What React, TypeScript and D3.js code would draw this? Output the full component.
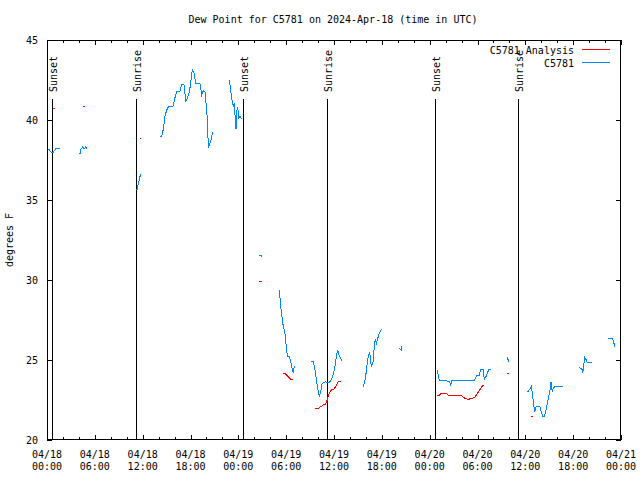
import React from "react";
import * as d3 from "d3";

// ---- Data (hours after 2024-04-18 00:00 UTC; null = gap) ----
const stationHours: (number | null)[] = [
  0.16, 0.5, 0.79, 1.09, 1.63, null,
  4.14, 4.23, 4.48, 4.68, 4.85, 4.98, null,
  9.13, 9.19, null,
  11.16, 11.32, 11.45, 11.57, 11.66, 11.79, null,
  14.17, 14.39, 14.59, 14.8, 15.02, 15.22, 15.84, 15.97, 16.27, 16.68, 16.9, 17.19, 17.4, 17.6, 17.81, 18.03, 18.15, 18.28, 18.44, 18.65, 19.19, 19.41, 19.61, 19.82, 20.03, 20.16, 20.23, 20.36, 20.53, 20.74, 20.86, null,
  22.83, 22.96, 23.08, 23.24, 23.37, 23.49, 23.58, 23.71, 23.8, 23.92, 24.08, 24.21, 24.42, null,
  26.63, 27.01, null,
  29.14, 29.32, 29.48, 29.64, 29.82, 29.94, 30.07, 30.19, 30.39, 30.57, 30.73, 30.9, 30.95, 31.07, null,
  33.12, 33.4, 33.58, 33.74, 33.91, 34.03, 34.16, 34.33, 34.5, 34.75, 34.96, 35.16, 35.41, 35.63, 35.84, 36.04, 36.21, 36.34, 36.47, 36.63, 36.84, 37.04, null,
  39.68, 39.85, 40.02, 40.14, 40.3, 40.43, 40.55, 40.68, 40.81, 40.93, 41.06, 41.18, 41.31, 41.43, 41.61, 41.77, 41.98, null,
  44.19, 44.37, 44.49, 44.5, null,
  46.68, 46.72, null,
  48.96, 49.08, 49.21, 49.51, 49.71, 50.13, 50.46, 50.64, 50.8, 51.39, 51.68, 52.02, 52.65, 52.97, 53.47, 53.69, 53.9, 54.22, 54.4, 54.73, 54.85, 55.03, 55.23, 55.4, 55.66, null,
  57.74, 57.91, null,
  60.25, 60.5, 60.75, 60.88, 61.0, 61.18, 61.34, 61.84, 62.0, 62.18, 62.34, 62.51, 62.68, 62.88, 63.09, 63.22, 63.38, 63.51, 63.72, 64.69, null,
  66.77, 67.11, 67.2, 67.36, 67.45, 67.61, 67.78, 68.33, null,
  70.41, 70.96, 71.12, 71.25,
];
const stationValues: (number | null)[] = [
  38.2, 38.0, 38.0, 38.2, 38.2, null,
  37.9, 38.15, 38.33, 38.2, 38.33, 38.2, null,
  35.67, 35.67, null,
  35.67, 35.67, 36.04, 36.25, 36.46, 36.63, null,
  38.92, 39.0, 39.42, 40.25, 40.63, 40.83, 40.88, 41.25, 41.77, 41.81, 42.19, 42.19, 41.19, 41.35, 41.67, 42.29, 42.92, 43.13, 42.92, 42.29, 42.25, 41.56, 41.83, 41.77, 40.63, 39.69, 38.23, 38.44, 38.65, 39.17, 39.23, null,
  42.5, 42.19, 41.67, 41.15, 40.83, 41.04, 40.31, 39.42, 40.52, 40.83, 40.1, 40.21, 40.04, null,
  31.56, 31.48, null,
  29.38, 28.33, 27.71, 27.08, 26.77, 26.25, 25.52, 25.21, 25.21, 24.9, 24.48, 24.21, 24.48, 24.63, null,
  24.92, 24.92, 24.48, 23.96, 23.38, 23.02, 22.75, 23.02, 23.5, 23.6, 23.65, 23.58, 23.6, 23.75, 24.0, 24.38, 24.9, 25.38, 25.63, 25.31, 25.1, 24.9, null,
  23.33, 23.65, 24.17, 24.69, 25.21, 25.42, 25.25, 24.58, 24.75, 24.9, 25.94, 26.29, 26.04, 26.25, 26.56, 26.77, 26.94, null,
  25.73, 25.63, 25.88, 25.56, null,
  23.48, 23.48, null,
  24.38, 24.06, 23.69, 23.69, 23.75, 23.69, 23.65, 23.44, 23.71, 23.71, 23.75, 23.71, 23.75, 23.69, 23.69, 23.79, 24.06, 24.06, 24.38, 24.38, 23.79, 23.92, 24.17, 24.38, 24.38, null,
  25.17, 24.9, null,
  22.98, 23.13, 23.33, 22.92, 22.4, 21.77, 22.08, 22.08, 21.77, 21.46, 21.46, 21.67, 22.08, 22.6, 23.13, 23.65, 23.02, 23.23, 23.33, 23.33, null,
  24.54, 24.42, 24.21, 24.79, 25.17, 25.04, 24.83, 24.83, null,
  26.35, 26.35, 26.04, 25.79,
];

const analysisHours: (number | null)[] = [
  0.75, 0.95, null,
  4.55, 4.8, null,
  11.67, 11.85, null,
  26.63, 26.93, null,
  29.64, 29.89, 30.27, 30.61, 30.9, null,
  33.62, 34.03, 34.33, 34.66, 34.96, 35.09, 35.25, 35.41, 35.71, 36.0, 36.25, 36.54, 36.88, null,
  48.96, 49.21, 49.39, 50.13, 50.34, 51.81, 52.15, 52.43, 52.85, 53.27, 53.69, 53.98, 54.23, 54.53, 54.82, null,
  57.74, 57.91, null,
  60.71, 60.92,
];
const analysisValues: (number | null)[] = [
  40.73, 40.73, null,
  40.85, 40.85, null,
  38.85, 38.85, null,
  29.92, 29.92, null,
  24.17, 24.13, 23.96, 23.79, 23.79, null,
  21.98, 21.98, 22.08, 22.19, 22.25, 22.4, 22.71, 22.92, 23.17, 23.19, 23.38, 23.65, 23.67, null,
  22.81, 22.81, 22.88, 22.88, 22.81, 22.81, 22.71, 22.6, 22.54, 22.6, 22.67, 22.92, 23.08, 23.33, 23.44, null,
  24.13, 24.13, null,
  21.48, 21.48,
];

const sunsetHours = [0.59, 24.62, 48.7];
const sunriseHours = [11.13, 35.15, 59.1];
const yTicks = [20, 25, 30, 35, 40, 45];
const seriesNames = ["C5781 Analysis", "C5781"];
const seriesColors = ["#ff0000", "#0088ff"];

const T0 = Date.UTC(2024, 3, 18, 0, 0);
const T1 = Date.UTC(2024, 3, 21, 0, 0);
const toDate = (h: number) => new Date(T0 + h * 3600e3);

type Pt = { t: Date | null; v: number | null };
const zipSeries = (hs: (number | null)[], vs: (number | null)[]): Pt[] =>
  hs.map((h, i) => ({ t: h == null ? null : toDate(h), v: h == null ? null : vs[i] }));

const FONT = "'DejaVu Sans Mono', monospace";

export default function App() {
  const W = 640, H = 480;
  const L = 47, R = 621, T = 40, B = 440;
  const x = d3.scaleUtc().domain([new Date(T0), new Date(T1)]).range([L, R]);
  const y = d3.scaleLinear().domain([20, 45]).range([B, T]);

  const line = d3
    .line<Pt>()
    .defined((d) => d.t != null && d.v != null)
    .x((d) => x(d.t as Date))
    .y((d) => y(d.v as number));

  const stationPath = line(zipSeries(stationHours, stationValues)) || "";
  const analysisPath = line(zipSeries(analysisHours, analysisValues)) || "";

  const majorTicks = d3.utcHour.every(6)!.range(new Date(T0), new Date(T1 + 1));
  const minorTicks = d3.utcHour.every(2)!.range(new Date(T0), new Date(T1 + 1));
  const fmtDate = d3.utcFormat("%m/%d");
  const fmtTime = d3.utcFormat("%H:%M");

  const events = [
    ...sunsetHours.map((h) => ({ h, label: "Sunset" })),
    ...sunriseHours.map((h) => ({ h, label: "Sunrise" })),
  ];

  return (
    <svg
      width={W}
      height={H}
      style={{ position: "absolute", left: 0, top: 0, background: "#fff" }}
      fontFamily={FONT}
      fontSize={10}
    >
      <rect x={0} y={0} width={W} height={H} fill="#fff" />
      <text x={333} y={23} textAnchor="middle" fill="#000">
        Dew Point for C5781 on 2024-Apr-18 (time in UTC)
      </text>

      {/* minor ticks */}
      {minorTicks.map((d, i) => (
        <g key={"mn" + i} stroke="#000" shapeRendering="crispEdges">
          <line x1={Math.round(x(d)) + 0.5} x2={Math.round(x(d)) + 0.5} y1={B} y2={B - 3} />
          <line x1={Math.round(x(d)) + 0.5} x2={Math.round(x(d)) + 0.5} y1={T} y2={T + 3} />
        </g>
      ))}
      {majorTicks.map((d, i) => (
        <g key={"mj" + i}>
          <g stroke="#000" shapeRendering="crispEdges">
            <line x1={Math.round(x(d)) + 0.5} x2={Math.round(x(d)) + 0.5} y1={B} y2={B - 5} />
            <line x1={Math.round(x(d)) + 0.5} x2={Math.round(x(d)) + 0.5} y1={T} y2={T + 5} />
          </g>
          <text x={x(d)} y={458} textAnchor="middle" fill="#000">{fmtDate(d)}</text>
          <text x={x(d)} y={470} textAnchor="middle" fill="#000">{fmtTime(d)}</text>
        </g>
      ))}
      {yTicks.map((v) => (
        <g key={"y" + v}>
          <g stroke="#000" shapeRendering="crispEdges">
            <line x1={L} x2={L + 5} y1={Math.round(y(v)) + 0.5} y2={Math.round(y(v)) + 0.5} />
            <line x1={R} x2={R - 5} y1={Math.round(y(v)) + 0.5} y2={Math.round(y(v)) + 0.5} />
          </g>
          <text x={38} y={y(v) + 3.5} textAnchor="end" fill="#000">{v}</text>
        </g>
      ))}

      <text transform="translate(13,240) rotate(-90)" textAnchor="middle" fill="#000">
        degrees F
      </text>

      {/* sunrise / sunset markers */}
      {events.map((e, i) => {
        const xx = Math.round(x(toDate(e.h))) + 0.5;
        return (
          <g key={"ev" + i}>
            <line x1={xx} x2={xx} y1={99} y2={B} stroke="#000" shapeRendering="crispEdges" />
            <text transform={`translate(${xx + 4.5},92) rotate(-90)`} textAnchor="start" fill="#000">
              {e.label}
            </text>
          </g>
        );
      })}

      <path d={analysisPath} fill="none" stroke={seriesColors[0]} strokeWidth={1} shapeRendering="crispEdges" />
      <path d={stationPath} fill="none" stroke={seriesColors[1]} strokeWidth={1} shapeRendering="crispEdges" />

      {/* frame */}
      <rect x={L + 0.5} y={T + 0.5} width={R - L - 1} height={B - T - 1} fill="none" stroke="#000" shapeRendering="crispEdges" />

      {/* legend */}
      {seriesNames.map((n, i) => (
        <g key={"lg" + i}>
          <text x={574} y={53.5 + i * 13} textAnchor="end" fill="#000">{n}</text>
          <line x1={582} x2={610} y1={49.5 + i * 13} y2={49.5 + i * 13} stroke={seriesColors[i]} strokeWidth={1} shapeRendering="crispEdges" />
        </g>
      ))}
    </svg>
  );
}
